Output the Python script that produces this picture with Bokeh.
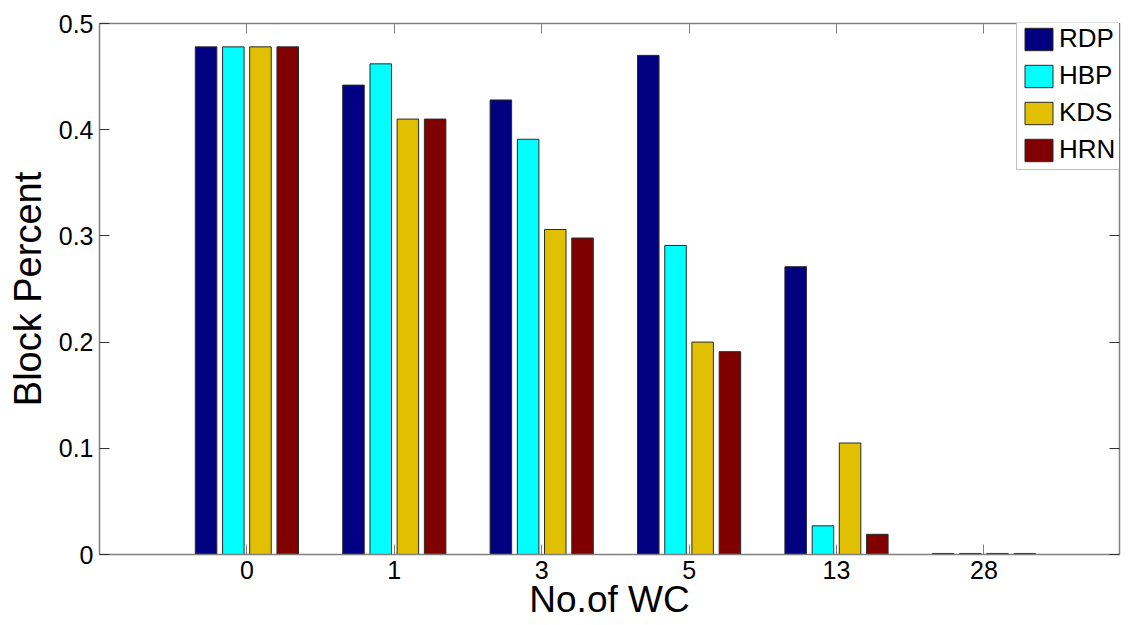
from bokeh.plotting import figure
from bokeh.models import ColumnDataSource, Range1d, LinearAxis, FixedTicker
from bokeh.transform import dodge
from bokeh.embed import file_html
from bokeh.resources import INLINE

categories = ["0", "1", "3", "5", "13", "28"]
rdp = [0.478, 0.442, 0.428, 0.470, 0.271, 0.001]
hbp = [0.478, 0.462, 0.391, 0.291, 0.027, 0.001]
kds = [0.478, 0.410, 0.306, 0.200, 0.105, 0.001]
hrn = [0.478, 0.410, 0.298, 0.191, 0.019, 0.001]
series_names = ["RDP", "HBP", "KDS", "HRN"]
colors = ["#000080", "#00FFFF", "#E0C000", "#800000"]
y_ticks = [0, 0.1, 0.2, 0.3, 0.4, 0.5]
y_tick_labels = ["0", "0.1", "0.2", "0.3", "0.4", "0.5"]

pos = list(range(1, len(categories) + 1))
src = ColumnDataSource(dict(pos=pos, RDP=rdp, HBP=hbp, KDS=kds, HRN=hrn))

FONT = "Liberation Sans"
p = figure(width=1129, height=625, output_backend="svg", toolbar_location=None,
           x_range=Range1d(0, 6.92), y_range=Range1d(0, 0.5),
           min_border_left=99, min_border_right=10, min_border_top=23, min_border_bottom=71)
p.grid.visible = False
p.outline_line_color = None
p.background_fill_color = "white"

offsets = [-0.277, -0.092, 0.092, 0.277]
for name, col, off in zip(series_names, colors, offsets):
    p.vbar(x=dodge("pos", off), top=name, width=0.146, bottom=0, source=src,
           fill_color=col, line_color="#2a2a2a", line_width=1, legend_label=name)

p.xaxis.ticker = FixedTicker(ticks=pos)
p.xaxis.major_label_overrides = {i: c for i, c in zip(pos, categories)}
p.yaxis.ticker = FixedTicker(ticks=y_ticks)
p.yaxis.major_label_overrides = {t: s for t, s in zip(y_ticks, y_tick_labels)}

for ax in [p.xaxis[0], p.yaxis[0]]:
    ax.axis_line_color = "#808080"
    ax.axis_line_width = 1.5
    ax.major_tick_in = 10
    ax.major_tick_out = 0
    ax.minor_tick_line_color = None
    ax.major_label_text_font = FONT
    ax.major_label_text_font_size = "25px"
    ax.major_label_text_color = "black"
    ax.axis_label_text_font = FONT
    ax.axis_label_text_font_style = "normal"
    ax.axis_label_text_color = "black"

p.xaxis.axis_label = "No.of WC"
p.yaxis.axis_label = "Block Percent"
p.xaxis.axis_label_text_font_size = "37px"
p.yaxis.axis_label_text_font_size = "38px"
p.xaxis.major_tick_line_color = "#808080"
p.yaxis.major_tick_line_color = "#333333"
p.xaxis.major_label_standoff = 6
p.xaxis.axis_label_standoff = -3
p.yaxis.major_label_standoff = 6
p.yaxis.axis_label_standoff = 7

top_ax = LinearAxis(ticker=FixedTicker(ticks=pos),
                    major_label_overrides={i: "" for i in pos})
right_ax = LinearAxis(ticker=FixedTicker(ticks=y_ticks),
                      major_label_overrides={t: "" for t in y_ticks})
for ax, tc in [(top_ax, "#808080"), (right_ax, "#333333")]:
    ax.axis_line_color = "#808080"
    ax.axis_line_width = 1.5
    ax.major_tick_in = 10
    ax.major_tick_out = 0
    ax.minor_tick_line_color = None
    ax.major_tick_line_color = tc
    ax.major_label_standoff = 0
p.add_layout(top_ax, "above")
p.add_layout(right_ax, "right")

leg = p.legend[0]
leg.location = (917, 384)
leg.glyph_width = 35
leg.glyph_height = 28
leg.label_text_font = FONT
leg.label_text_font_size = "26px"
leg.label_text_color = "black"
leg.label_standoff = 3
leg.spacing = 6
leg.padding = 4
leg.margin = 0
leg.border_line_color = "#808080"
leg.border_line_width = 1.5
leg.background_fill_alpha = 1

open("out.html", "w").write(file_html(p, INLINE))
